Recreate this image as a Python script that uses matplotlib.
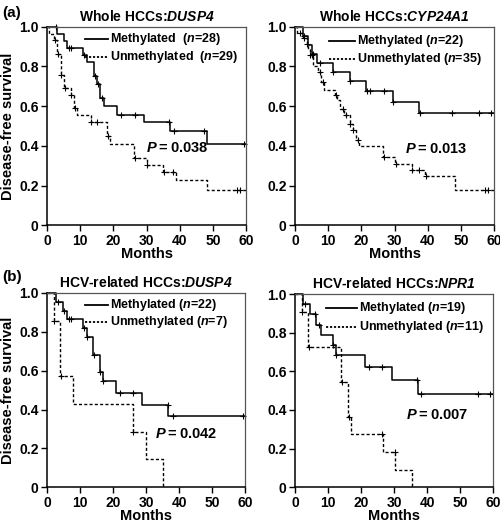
import numpy as np
import matplotlib
matplotlib.use("Agg")
import matplotlib.pyplot as plt

plt.rcParams['font.family'] = ['Liberation Sans', 'DejaVu Sans']
plt.rcParams['font.weight'] = 'bold'
plt.rcParams['mathtext.fontset'] = 'custom'
plt.rcParams['mathtext.rm'] = 'Liberation Sans:bold'
plt.rcParams['mathtext.bf'] = 'Liberation Sans:bold'
plt.rcParams['mathtext.it'] = 'Liberation Sans:italic:bold'
plt.rcParams['mathtext.sf'] = 'Liberation Sans:italic:bold'

# ---------------- data ----------------
titles = ["Whole HCCs:$\\mathsf{DUSP4}$", "Whole HCCs:$\\mathsf{CYP24A1}$",
          "HCV-related HCCs:$\\mathsf{DUSP4}$", "HCV-related HCCs:$\\mathsf{NPR1}$"]
meth_labels = ["Methylated  ($\\mathsf{n}$=28)", "Methylated ($\\mathsf{n}$=22)",
               "Methylated ($\\mathsf{n}$=22)", "Methylated ($\\mathsf{n}$=19)"]
unmeth_labels = ["Unmethylated  ($\\mathsf{n}$=29)", "Unmethylated ($\\mathsf{n}$=35)",
                 "Unmethylated ($\\mathsf{n}$=7)", "Unmethylated ($\\mathsf{n}$=11)"]
p_values = ["0.038", "0.013", "0.042", "0.007"]
panel_tags = ["(a)", "(b)"]

# Panel 1: Whole HCCs DUSP4
p1_meth_t = [3, 5, 6, 11, 12.2, 14.3, 15.1, 16.1, 17.2, 21.2, 29.1, 37.1, 48.1]
p1_meth_s = [0.964, 0.929, 0.893, 0.857, 0.821, 0.75, 0.714, 0.643, 0.60, 0.557, 0.519, 0.475, 0.41]
p1_meth_c = [2.8, 6.5, 7.2, 11.3, 14.5, 15.5, 16.5, 22.3, 26.5, 36.8, 38.2, 47.2, 59.3]
p1_un_t = [0.5, 2.2, 3.1, 4.1, 5.1, 7.1, 8.1, 9.1, 13.2, 18.2, 19, 26.2, 30, 35.1, 38.9, 48.1]
p1_un_s = [0.966, 0.931, 0.862, 0.759, 0.69, 0.655, 0.59, 0.555, 0.52, 0.45, 0.41, 0.337,
           0.303, 0.27, 0.228, 0.178]
p1_un_c = [2.4, 3.3, 4.3, 5.3, 7.3, 8.3, 13.4, 15.2, 18.4, 26.4, 30.2, 35.3, 38.1, 57.2, 58.2]

# Panel 2: Whole HCCs CYP24A1
p2_meth_t = [2.5, 4, 5.2, 6.5, 11.5, 16.5, 21.5, 29.5, 37.5]
p2_meth_s = [0.955, 0.909, 0.864, 0.818, 0.773, 0.727, 0.677, 0.62, 0.565]
p2_meth_c = [2.7, 5.4, 7.5, 11.6, 16.6, 21.6, 22.6, 26.7, 29.6, 37.7, 47.4, 55.4, 59.2]
p2_un_t = [0.5, 2.5, 3.5, 4.0, 4.5, 5.3, 6.5, 7.0, 7.8, 8.7, 12.0, 12.7, 13.7, 14.7, 16.5,
           17.5, 18.4, 19.3, 26.6, 30.3, 35.3, 39.3, 48.1]
p2_un_s = [0.971, 0.943, 0.914, 0.886, 0.857, 0.804, 0.79, 0.77, 0.72, 0.682, 0.654, 0.629,
           0.587, 0.553, 0.512, 0.478, 0.428, 0.398, 0.343, 0.306, 0.278, 0.247, 0.178]
p2_un_c = [1.5, 2.6, 3.7, 4.6, 5.0, 7.6, 8.5, 12.5, 14.4, 15.3, 16.6, 17.6, 18.9, 26.7,
           30.4, 35.4, 37.4, 39.4, 57.3, 58.3]

# Panel 3: HCV-related HCCs DUSP4
p3_meth_t = [2.7, 4.9, 6.2, 11, 12, 14, 16, 16.9, 21, 28.9, 36.8]
p3_meth_s = [0.955, 0.909, 0.864, 0.818, 0.773, 0.682, 0.591, 0.545, 0.485, 0.424, 0.364]
p3_meth_c = [3.3, 5.2, 6.6, 7.4, 11.2, 12.2, 14.2, 16.2, 17.1, 22.2, 26.2, 36.6, 38.3, 59.3]
p3_un_t = [2, 4, 8, 26, 30, 35]
p3_un_s = [0.857, 0.571, 0.429, 0.286, 0.143, 0.0]
p3_un_c = [2.1, 4.2, 26.2]

# Panel 4: HCV-related HCCs NPR1
p4_meth_t = [2.5, 4.5, 6.5, 8, 11.4, 12.3, 21.2, 29.4, 37.3]
p4_meth_s = [0.947, 0.895, 0.842, 0.789, 0.737, 0.684, 0.623, 0.555, 0.482]
p4_meth_c = [3.0, 6.2, 7.2, 11.5, 12.4, 22.3, 26.3, 37.1, 38.3, 55.4, 59.2]
p4_un_t = [2, 4, 13.8, 16.1, 17.1, 26.7, 30.4, 35.5]
p4_un_s = [0.909, 0.727, 0.545, 0.364, 0.273, 0.182, 0.091, 0.0]
p4_un_c = [2.1, 4.3, 14.1, 16.5, 26.5, 30.3]

x_ticks = [0, 10, 20, 30, 40, 50, 60]
y_ticks = [0, 0.2, 0.4, 0.6, 0.8, 1.0]
y_ticklabels = ["0", "0.2", "0.4", "0.6", "0.8", "1.0"]

panels = [
    (p1_meth_t, p1_meth_s, p1_meth_c, p1_un_t, p1_un_s, p1_un_c),
    (p2_meth_t, p2_meth_s, p2_meth_c, p2_un_t, p2_un_s, p2_un_c),
    (p3_meth_t, p3_meth_s, p3_meth_c, p3_un_t, p3_un_s, p3_un_c),
    (p4_meth_t, p4_meth_s, p4_meth_c, p4_un_t, p4_un_s, p4_un_c),
]

# layout (figure fractions) and annotation placements in data coords
axes_rects = [[0.094, 0.571, 0.398, 0.378], [0.590, 0.571, 0.398, 0.378],
              [0.094, 0.072, 0.396, 0.370], [0.590, 0.072, 0.396, 0.368]]
legend_pos = [(11.5, 18.4, 0.94, 0.85), (10.2, 18.0, 0.93, 0.84),
              (11.5, 18.5, 0.94, 0.85), (9.5, 18.7, 0.93, 0.83)]
p_pos = [(29.8, 0.39), (33.2, 0.385), (32.6, 0.275), (33.7, 0.375)]

DASH = (0, (2.2, 1.6))


def step_xy(t, s):
    t = list(t); s = list(s)
    end = t[-1] if s[-1] == 0 else 60
    xs = [0] + t + [end]
    ys = [1.0] + s + [s[-1]]
    return xs, ys


def censor_y(t, s, c):
    idx = np.searchsorted(np.array(t), np.array(c), side='right')
    lv = np.concatenate([[1.0], np.array(s)])
    return lv[idx]


fig = plt.figure(figsize=(5, 5.25), dpi=100)

for i, (mt, ms, mc, ut, us, uc) in enumerate(panels):
    ax = fig.add_axes(axes_rects[i])
    xs, ys = step_xy(ut, us)
    ax.step(xs, ys, where='post', color='black', lw=1.0, linestyle=DASH, clip_on=False)
    ax.plot(uc, censor_y(ut, us, uc), linestyle='none', marker='+', color='black',
            ms=5, mew=0.8, clip_on=False)
    xs, ys = step_xy(mt, ms)
    ax.step(xs, ys, where='post', color='black', lw=1.1, clip_on=False)
    ax.plot(mc, censor_y(mt, ms, mc), linestyle='none', marker='+', color='black',
            ms=5, mew=0.8, clip_on=False)

    # legend
    x0, x1, yr1, yr2 = legend_pos[i]
    ax.plot([x0, x1], [yr1, yr1], color='black', lw=1.3)
    ax.plot([x0, x1], [yr2, yr2], color='black', lw=1.3, linestyle=(0, (1.2, 1.0)))
    ax.text(x1 + 0.6, yr1, meth_labels[i], fontsize=9, fontweight='bold', va='center', ha='left')
    ax.text(x1 + 0.6, yr2, unmeth_labels[i], fontsize=9, fontweight='bold', va='center', ha='left')

    # p value
    px, py = p_pos[i]
    ax.text(px, py, "$\\mathsf{P}$\u2009=\u20090" + p_values[i][1:], fontsize=10.5,
            fontweight='bold', va='center', ha='left')

    ax.set_xlim(0, 60)
    ax.set_ylim(0, 1.0)
    ax.set_xticks(x_ticks)
    ax.set_xticklabels([str(v) for v in x_ticks], fontsize=10, fontweight='bold')
    ax.set_yticks(y_ticks)
    ax.set_yticklabels(y_ticklabels, fontsize=10, fontweight='bold')
    ax.tick_params(direction='out', length=4, width=1, pad=2)
    for sp in ['left', 'bottom']:
        ax.spines[sp].set_linewidth(1.1)
    for sp in ['top', 'right']:
        ax.spines[sp].set_linewidth(0.9)
        ax.spines[sp].set_color('#555555')
    ax.set_xlabel("Months", fontsize=10.5, fontweight='bold', labelpad=-0.5)
    if i % 2 == 0:
        ax.set_ylabel("Disease-free survival", fontsize=10.5, fontweight='bold', labelpad=3)
    ax.set_title(titles[i], fontsize=10, fontweight='bold', pad=4)

fig.text(0.004, 0.976, panel_tags[0], fontsize=11, fontweight='bold', va='center', ha='left')
fig.text(0.004, 0.472, panel_tags[1], fontsize=11, fontweight='bold', va='center', ha='left')

fig.savefig("out.png", dpi=100)
